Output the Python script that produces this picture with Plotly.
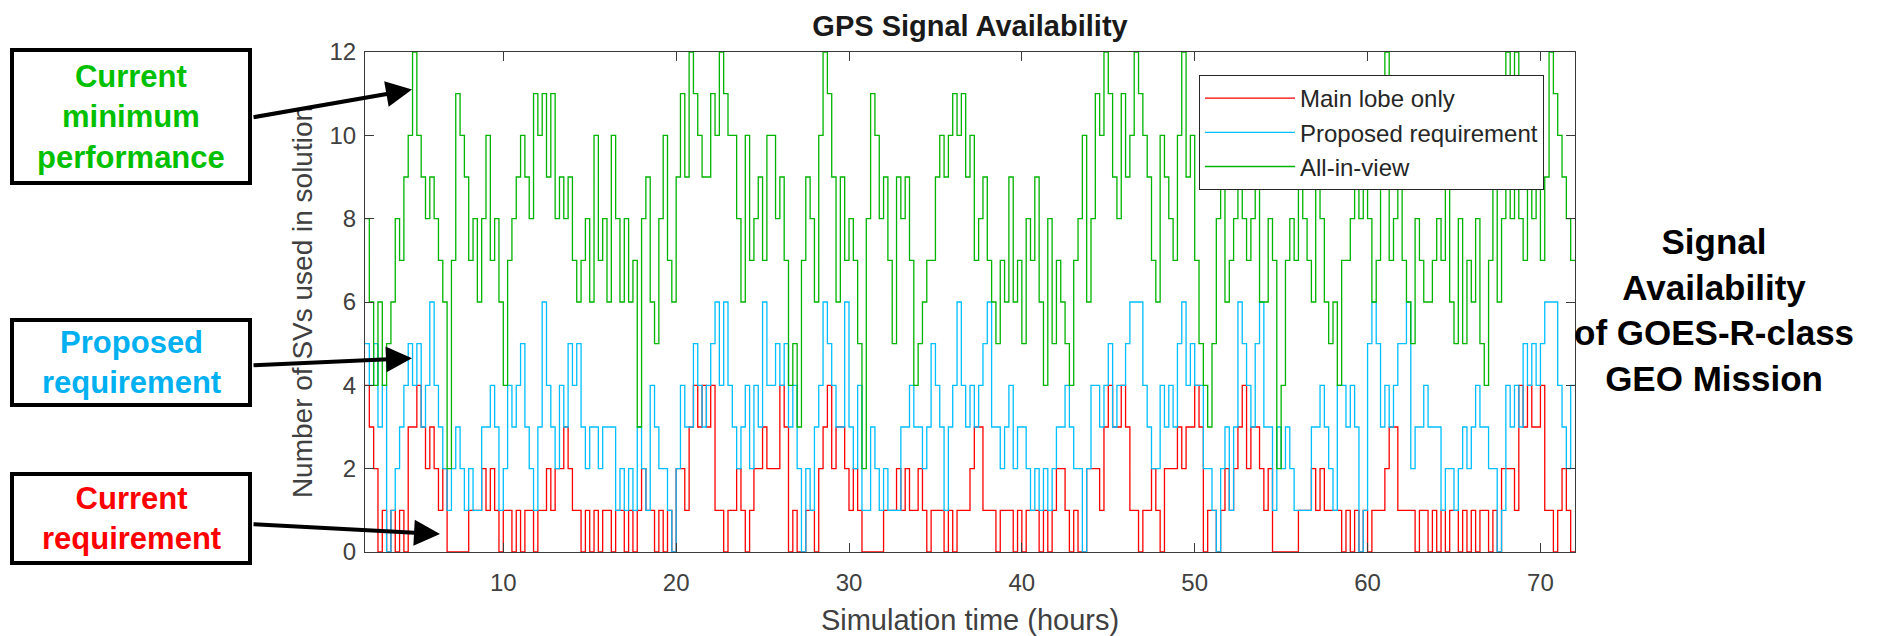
import plotly.graph_objects as go

# ---------------- data (0.25 h steps from t = 2 h) ----------------
T_START = 2.0
T_STEP = 0.25
T_END = 72.0

main_lobe_only = [
    4,3,2,0,1,0,1,0,1,0,3,3,4,3,2,3,2,1,2,0,0,0,0,0,1,1,1,2,1,2,1,0,1,1,0,1,0,1,1,0,1,1,2,1,2,2,3,
    2,1,1,0,1,0,1,0,1,1,0,1,1,0,1,0,1,2,1,1,0,1,0,1,0,2,2,1,3,4,3,4,3,4,1,1,0,1,1,2,1,0,1,2,2,3,2,
    2,2,4,3,0,1,0,0,1,1,0,2,3,4,2,3,3,2,1,2,1,0,0,0,0,0,1,1,1,2,1,2,1,1,2,1,0,1,1,1,0,1,0,1,1,1,
    2,3,3,1,1,1,0,1,1,1,0,1,0,1,1,1,0,1,0,1,2,2,1,0,1,0,0,2,2,2,1,3,4,3,3,4,3,1,1,0,1,1,2,1,0,2,2,
    2,3,2,3,3,4,3,0,1,1,0,1,2,1,2,3,4,2,3,3,2,1,2,0,0,0,0,0,0,1,1,1,2,1,2,1,1,1,1,0,1,0,1,0,1,0,1,
    1,1,2,3,3,1,1,1,1,0,1,1,0,1,0,1,0,1,1,0,1,0,1,0,1,1,0,1,0,2,2,2,1,4,3,4,3,3,4,1,1,0,1,2,1,0,
]

proposed_requirement = [
    5,4,5,3,4,0,1,2,3,4,5,4,5,3,4,6,4,3,2,1,2,3,2,1,2,1,1,3,3,4,3,1,2,4,3,4,5,3,2,1,3,6,4,3,2,4,3,
    5,4,5,3,2,3,3,2,3,3,3,1,2,1,2,1,3,2,1,4,3,2,2,1,0,2,4,3,3,5,4,3,4,5,6,4,6,4,3,2,3,4,2,4,3,6,4,
    4,5,4,5,3,4,2,0,2,1,3,4,6,5,4,3,3,6,3,2,4,1,1,3,2,1,2,1,1,1,3,3,4,3,3,2,3,5,4,3,1,3,4,6,4,3,
    4,3,4,5,6,3,3,2,3,4,2,3,3,2,1,2,1,2,1,2,3,3,4,3,2,2,0,2,4,4,3,4,5,3,4,4,5,6,6,6,4,3,2,2,4,3,4,
    3,5,6,4,5,4,4,2,2,1,0,2,3,1,3,6,5,4,3,5,6,3,3,1,3,2,3,2,1,1,1,1,3,3,4,3,2,1,4,4,3,4,3,0,1,5,6,
    5,3,4,3,4,5,5,6,2,3,3,4,3,3,3,1,2,2,1,2,3,2,3,4,3,3,2,2,0,1,4,3,4,3,5,4,5,4,5,6,6,6,4,3,2,4,
]

all_in_view = [
    8,6,4,6,4,5,6,8,7,9,10,12,10,9,8,9,8,7,6,2,7,11,10,9,7,8,6,8,10,7,8,6,4,7,8,9,10,9,8,11,10,11,9,11,8,9,8,
    9,7,6,7,8,6,10,7,8,6,10,8,6,8,6,7,3,8,9,6,5,8,10,7,6,9,11,9,12,11,10,9,9,11,10,12,11,10,10,8,6,10,7,8,9,7,10,
    10,8,9,7,4,5,3,7,9,8,6,10,12,11,9,6,9,7,8,7,5,2,8,11,10,8,9,7,5,9,8,9,7,4,5,6,7,7,9,10,9,10,11,10,11,9,
    10,7,8,9,7,6,5,7,6,9,6,7,5,8,7,9,6,4,8,5,7,6,5,4,7,8,10,6,8,11,10,12,11,9,8,11,9,10,12,11,10,9,7,6,10,9,8,
    7,10,12,9,10,7,5,4,3,5,8,9,6,7,8,11,8,7,8,9,6,6,8,7,2,4,7,8,7,9,8,7,6,9,8,6,5,6,4,7,7,8,9,8,9,8,6,
    7,9,12,7,8,9,7,6,5,8,7,6,6,7,8,7,9,6,5,8,5,7,6,8,5,4,7,9,6,8,12,8,12,8,7,9,8,9,7,9,12,11,10,9,8,7,
]

series_names = ["Main lobe only", "Proposed requirement", "All-in-view"]
series_values = [main_lobe_only, proposed_requirement, all_in_view]
series_colors = ["#FF0000", "#00BFFF", "#00B400"]

x_ticks = [10, 20, 30, 40, 50, 60, 70]
y_ticks = [0, 2, 4, 6, 8, 10, 12]

# ---------------- layout geometry (reference pixel frame) ----------------
PAGE_OFF = 8                      # default body margin of the html page
W_REF, H_REF = 1888, 636
PLOT_L, PLOT_R, PLOT_T, PLOT_B = 365, 1575, 52, 552
W, H = W_REF - PAGE_OFF, H_REF - PAGE_OFF
PW, PH = PLOT_R - PLOT_L, PLOT_B - PLOT_T


def px(xr):
    return (xr - PLOT_L) / PW


def py(yr):
    return (PLOT_B - yr) / PH


fig = go.Figure()
for name, vals, color in zip(series_names, series_values, series_colors):
    n = len(vals)
    xs = [T_START + T_STEP * i for i in range(n)] + [T_END]
    ys = list(vals) + [vals[-1]]
    fig.add_trace(go.Scatter(
        x=xs, y=ys, mode="lines", name=name,
        line=dict(color=color, width=1.3, shape="hv"),
    ))

axis_color = "#3a3a3a"
font_family = "Liberation Sans, Arial, sans-serif"

fig.update_layout(
    width=W, height=H,
    margin=dict(l=PLOT_L - PAGE_OFF, r=W - (PLOT_R - PAGE_OFF), t=PLOT_T - PAGE_OFF,
                b=H - (PLOT_B - PAGE_OFF), autoexpand=False),
    paper_bgcolor="white", plot_bgcolor="white",
    font=dict(family=font_family, color="#404040"),
    title=dict(text="<b>GPS Signal Availability</b>", x=0.5, xref="paper",
               y=1 - (26 - PAGE_OFF) / H, yanchor="middle", xanchor="center",
               font=dict(size=29, color="#1a1a1a", family=font_family)),
    xaxis=dict(range=[T_START, T_END], tickvals=x_ticks, ticks="inside", ticklen=9,
               tickcolor=axis_color, showline=True, linecolor=axis_color, linewidth=1,
               mirror="ticks", showgrid=False, zeroline=False, ticklabelstandoff=9,
               tickfont=dict(size=24, color="#404040"),
               title=dict(text="Simulation time (hours)", font=dict(size=29, color="#404040"),
                          standoff=18)),
    yaxis=dict(range=[0, 12], tickvals=y_ticks, ticks="inside", ticklen=9,
               tickcolor=axis_color, showline=True, linecolor=axis_color, linewidth=1,
               mirror="ticks", showgrid=False, zeroline=False, ticklabelstandoff=3,
               tickfont=dict(size=24, color="#404040"),
               title=dict(text="Number of SVs used in solution",
                          font=dict(size=28, color="#404040"), standoff=8)),
    legend=dict(x=px(1199), y=py(75), xanchor="left", yanchor="top",
                bgcolor="white", bordercolor="#262626", borderwidth=1,
                font=dict(size=24, color="#262626"), itemwidth=90,
                tracegroupgap=0),
    showlegend=True,
)

# ---------------- call-out boxes on the left ----------------
boxes = [
    ("Current<br>minimum<br>performance", "#00C000", 12, 250, 50, 183),
    ("Proposed<br>requirement", "#00B0F0", 12, 250, 320, 405),
    ("Current<br>requirement", "#FF0000", 12, 250, 474, 563),
]
for text, color, x0, x1, y0, y1 in boxes:
    fig.add_shape(type="rect", xref="paper", yref="paper",
                  x0=px(x0), x1=px(x1), y0=py(y1), y1=py(y0),
                  line=dict(color="black", width=4), fillcolor="white", layer="above")
    fig.add_annotation(xref="paper", yref="paper", x=px((x0 + x1) / 2), y=py((y0 + y1) / 2),
                       text=f"<b>{text}</b>", showarrow=False, align="center",
                       xanchor="center", yanchor="middle",
                       font=dict(size=31, color=color, family=font_family))

# arrows: (tip hours, tip value, tail offset px)
arrows = [
    (4.72, 11.1, -160, 28),
    (4.72, 4.65, -160, 7),
    (6.34, 0.43, -188, -10),
]
for xt, yt, axo, ayo in arrows:
    fig.add_annotation(x=xt, y=yt, xref="x", yref="y", text="", showarrow=True,
                       ax=axo, ay=ayo, arrowhead=2, arrowsize=1.3, arrowwidth=4,
                       arrowcolor="black")

# ---------------- right-hand caption ----------------
fig.add_annotation(xref="paper", yref="paper", x=px(1714), y=py(310),
                   text="<b>Signal<br>Availability<br>of GOES-R-class<br>GEO Mission</b>",
                   showarrow=False, align="center", xanchor="center", yanchor="middle",
                   font=dict(size=35, color="black", family=font_family))

fig.write_html("out.html")
